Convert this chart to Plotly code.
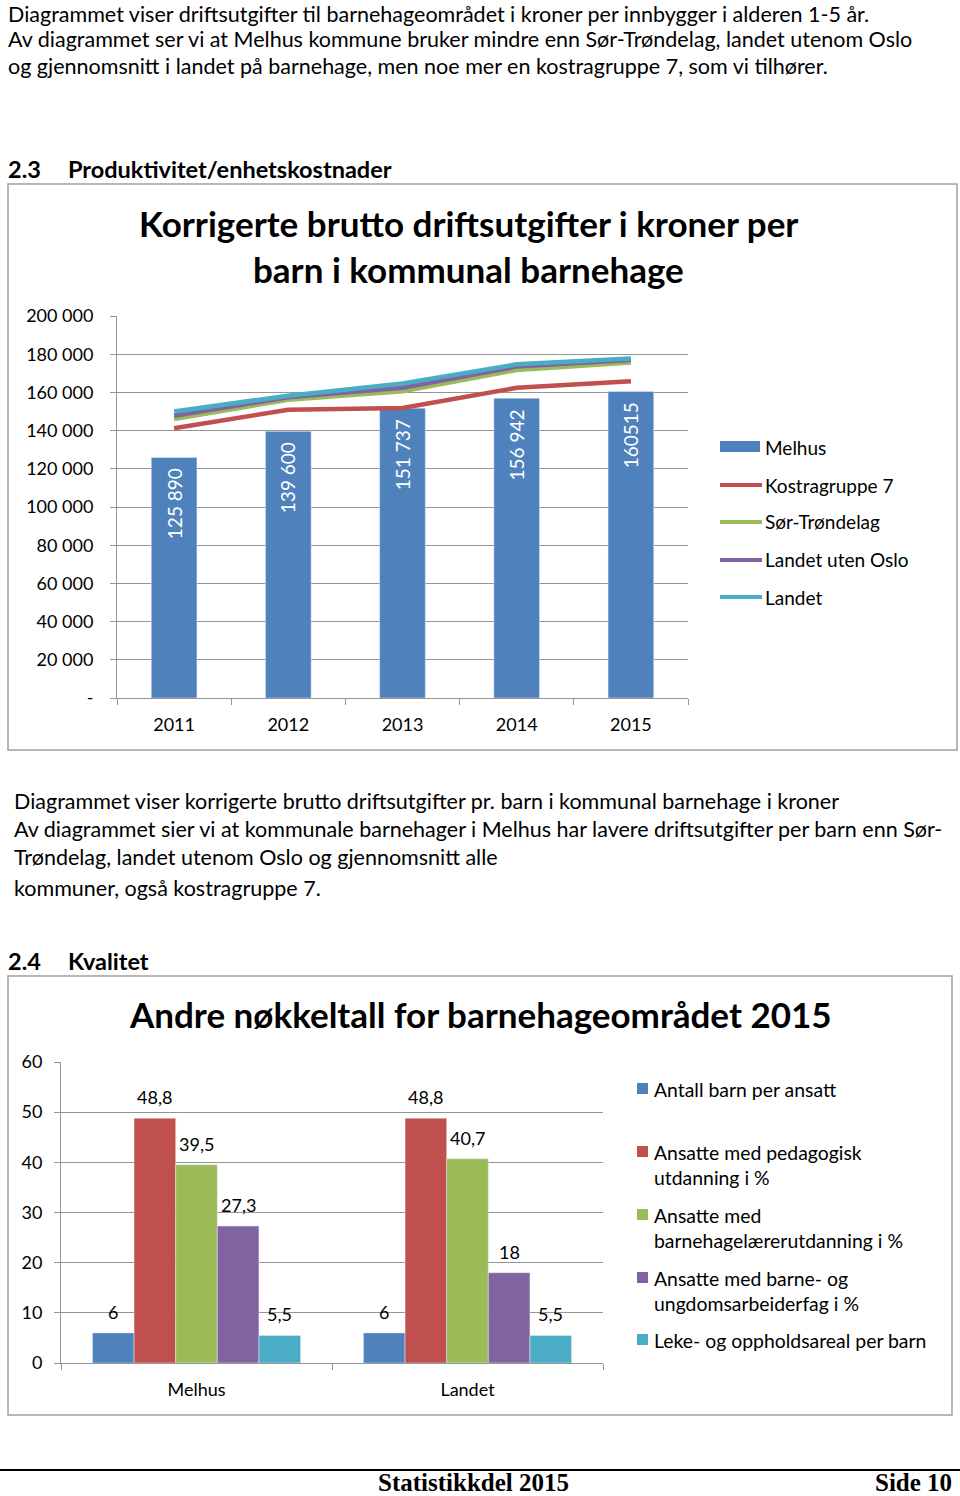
import plotly.graph_objects as go

W, H = 960, 1496


def px(x):
    return x / W


def py(y):
    return 1 - y / H


# ---------------- data ----------------
years = ["2011", "2012", "2013", "2014", "2015"]
melhus_cost = [125890, 139600, 151737, 156942, 160515]
melhus_cost_labels = ["125 890", "139 600", "151 737", "156 942", "160515"]
kostragruppe7 = [141200, 150900, 151800, 162400, 165900]
sor_trondelag = [146000, 156200, 160600, 171700, 175600]
landet_uten_oslo = [147800, 157400, 162400, 173500, 177000]
landet_cost = [150000, 158300, 164700, 174700, 177700]
chart1_series = ["Melhus", "Kostragruppe 7", "Sør-Trøndelag", "Landet uten Oslo", "Landet"]
y1_tickvals = [0, 20000, 40000, 60000, 80000, 100000, 120000, 140000, 160000, 180000, 200000]
y1_ticktext = ["-", "20 000", "40 000", "60 000", "80 000", "100 000", "120 000",
               "140 000", "160 000", "180 000", "200 000"]

groups2 = ["Melhus", "Landet"]
kval_names = ["Antall barn per ansatt",
              "Ansatte med pedagogisk<br>utdanning i %",
              "Ansatte med<br>barnehagelærerutdanning i %",
              "Ansatte med barne- og<br>ungdomsarbeiderfag i %",
              "Leke- og oppholdsareal per barn"]
kval_melhus = [6, 48.8, 39.5, 27.3, 5.5]
kval_landet = [6, 48.8, 40.7, 18, 5.5]
y2_tickvals = [0, 10, 20, 30, 40, 50, 60]

COLORS = ["#4F81BD", "#C0504D", "#9BBB59", "#8064A2", "#4BACC6"]
FONT = "Lato"
GRID = "#959595"

fig = go.Figure()

# ---------------- chart 1 ----------------
fig.add_trace(go.Bar(x=years, y=melhus_cost, name=chart1_series[0], marker_color=COLORS[0],
                     width=0.4, xaxis="x", yaxis="y", showlegend=False))
for name, vals, col in zip(chart1_series[1:],
                           [kostragruppe7, sor_trondelag, landet_uten_oslo, landet_cost],
                           COLORS[1:]):
    fig.add_trace(go.Scatter(x=years, y=vals, name=name, mode="lines",
                             line=dict(color=col, width=4.5), xaxis="x", yaxis="y",
                             showlegend=False))

annotations = []
for idx, (v, lab) in enumerate(zip(melhus_cost, melhus_cost_labels)):
    annotations.append(dict(x=idx, y=v, xref="x", yref="y", text=lab, textangle=-90,
                            showarrow=False, yanchor="top", xanchor="center", yshift=-9,
                            font=dict(family=FONT, size=19, color="white")))

# ---------------- chart 2 ----------------
bargap2 = 0.232
slot = (1 - bargap2) / len(kval_names)
for i, (name, col) in enumerate(zip(kval_names, COLORS)):
    vals = [kval_melhus[i], kval_landet[i]]
    fig.add_trace(go.Bar(x=groups2, y=vals, name=name, marker_color=col,
                         xaxis="x2", yaxis="y2", showlegend=False))
    for gi, v in enumerate(vals):
        annotations.append(dict(x=gi + (i - 2) * slot, y=v, xref="x2", yref="y2",
                                text=str(v).replace(".", ","), showarrow=False,
                                yanchor="middle", yshift=21,
                                font=dict(family=FONT, size=18, color="black")))

# ---------------- legends (manual) ----------------
shapes = []
leg1_y = [447, 485, 522, 560, 597]
shapes.append(dict(type="rect", xref="paper", yref="paper", x0=px(720), x1=px(760),
                   y0=py(452), y1=py(441), fillcolor=COLORS[0], line=dict(width=0)))
for k in range(1, 5):
    shapes.append(dict(type="line", xref="paper", yref="paper", x0=px(720), x1=px(762),
                       y0=py(leg1_y[k]), y1=py(leg1_y[k]), line=dict(color=COLORS[k], width=4)))
for k, name in enumerate(chart1_series):
    annotations.append(dict(x=px(763), y=py(leg1_y[k]), xref="paper", yref="paper",
                            text=name, showarrow=False, xanchor="left", yanchor="middle",
                            font=dict(family=FONT, size=19, color="black")))

leg2_y = [1089, 1152, 1215, 1278, 1340]
for k, name in enumerate(kval_names):
    shapes.append(dict(type="rect", xref="paper", yref="paper", x0=px(637), x1=px(648),
                       y0=py(leg2_y[k] + 5), y1=py(leg2_y[k] - 6), fillcolor=COLORS[k],
                       line=dict(width=0)))
    for li, part in enumerate(name.split("<br>")):
        annotations.append(dict(x=px(652), y=py(leg2_y[k] + 25 * li), xref="paper", yref="paper",
                                text=part, showarrow=False, xanchor="left", yanchor="middle",
                                font=dict(family=FONT, size=19.4, color="black")))

# ---------------- boxes & page text ----------------
shapes.append(dict(type="rect", xref="paper", yref="paper", x0=px(8), x1=px(957),
                   y0=py(750), y1=py(184), line=dict(color="#a0a0a0", width=1.5)))
shapes.append(dict(type="rect", xref="paper", yref="paper", x0=px(8), x1=px(952),
                   y0=py(1415), y1=py(976), line=dict(color="#a0a0a0", width=1.5)))
shapes.append(dict(type="line", xref="paper", yref="paper", x0=0, x1=1,
                   y0=py(1470), y1=py(1470), line=dict(color="black", width=2)))


def txt(x, y, s, size=21.5, bold=False, anchor="left", family=FONT):
    if bold:
        s = "<b>" + s + "</b>"
    annotations.append(dict(x=px(x), y=py(y), xref="paper", yref="paper", text=s,
                            showarrow=False, xanchor=anchor, yanchor="middle",
                            font=dict(family=family, size=size, color="black")))


txt(6, 13.5, "Diagrammet viser driftsutgifter til barnehageområdet i kroner per innbygger i alderen 1-5 år.")
txt(6, 39, "Av diagrammet ser vi at Melhus kommune bruker mindre enn Sør-Trøndelag, landet utenom Oslo")
txt(6, 66, "og gjennomsnitt i landet på barnehage, men noe mer en kostragruppe 7, som vi tilhører.")
txt(6, 169, "2.3", size=23.5, bold=True)
txt(66, 169, "Produktivitet/enhetskostnader", size=23.5, bold=True)
txt(468, 223, "Korrigerte brutto driftsutgifter i kroner per", size=35, bold=True, anchor="center")
txt(468, 269, "barn i kommunal barnehage", size=35, bold=True, anchor="center")
txt(12, 801, "Diagrammet viser korrigerte brutto driftsutgifter pr. barn i kommunal barnehage i kroner")
txt(12, 829, "Av diagrammet sier vi at kommunale barnehager i Melhus har lavere driftsutgifter per barn enn Sør-")
txt(12, 857, "Trøndelag, landet utenom Oslo og gjennomsnitt alle")
txt(12, 888, "kommuner, også kostragruppe 7.")
txt(6, 961, "2.4", size=23.5, bold=True)
txt(66, 961, "Kvalitet", size=23.5, bold=True)
txt(480, 1014, "Andre nøkkeltall for barnehageområdet 2015", size=35, bold=True, anchor="center")
txt(473, 1482, "Statistikkdel 2015", size=25, bold=True, anchor="center", family="Liberation Serif")
txt(954, 1482, "Side 10", size=25, bold=True, anchor="right", family="Liberation Serif")

axis_common = dict(showline=True, linecolor=GRID, linewidth=1, ticks="outside",
                   tickcolor=GRID, ticklen=6, tickfont=dict(family=FONT, size=18, color="black"),
                   zeroline=False, fixedrange=True, automargin=False)

fig.update_layout(
    width=W, height=H, margin=dict(l=0, r=0, t=0, b=0, pad=0, autoexpand=False), autosize=False,
    paper_bgcolor="white", plot_bgcolor="white", showlegend=False,
    barmode="group", bargap=bargap2, bargroupgap=0,
    xaxis=dict(domain=[px(117), px(688)], anchor="y", type="category", tickson="boundaries",
               range=[-0.5, 4.5], showgrid=False, ticklabelstandoff=10, **axis_common),
    yaxis=dict(domain=[py(698), py(316)], anchor="x", range=[0, 200000], tickvals=y1_tickvals,
               ticktext=y1_ticktext, showgrid=True, gridcolor=GRID, gridwidth=1,
               ticklabelstandoff=13, **axis_common),
    xaxis2=dict(domain=[px(61), px(603)], anchor="y2", type="category", tickson="boundaries",
                range=[-0.5, 1.5], showgrid=False, ticklabelstandoff=10, **axis_common),
    yaxis2=dict(domain=[py(1363), py(1062)], anchor="x2", range=[0, 60], tickvals=y2_tickvals,
                showgrid=True, gridcolor=GRID, gridwidth=1, ticklabelstandoff=8, **axis_common),
    annotations=annotations, shapes=shapes,
)

fig.write_html("out.html", config={"displayModeBar": False},
               post_script="document.body.style.margin='0px';")
